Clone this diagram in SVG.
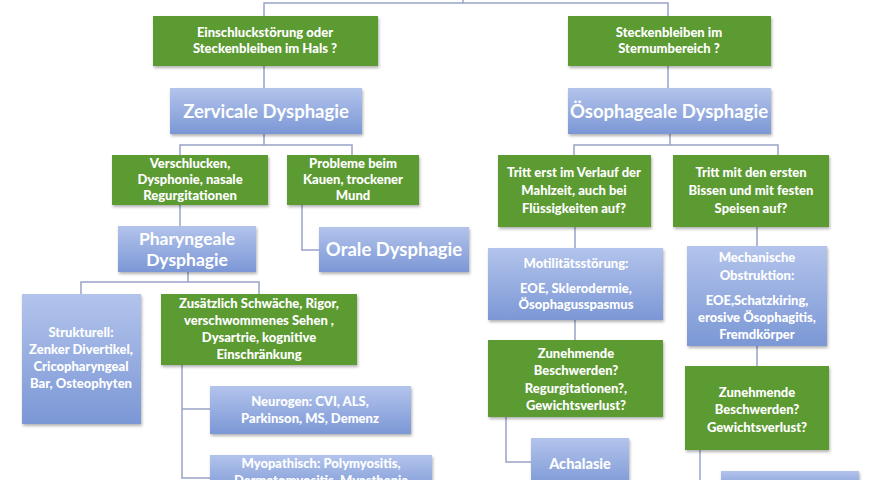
<svg xmlns="http://www.w3.org/2000/svg" width="880" height="480" viewBox="0 0 880 480">
<defs>
<linearGradient id="bg" x1="0" y1="0" x2="0" y2="1"><stop offset="0" stop-color="#b3c4ec"/><stop offset="1" stop-color="#7b97d5"/></linearGradient>
<filter id="sh" x="-10%" y="-10%" width="120%" height="130%"><feDropShadow dx="1" dy="2" stdDeviation="1.5" flood-color="#000" flood-opacity="0.3"/></filter>
</defs>
<style>
.g{fill:#5c9a32;filter:url(#sh)}
.b{fill:url(#bg);filter:url(#sh)}
text{font-family:Lato,"Liberation Sans",sans-serif;font-weight:900;fill:#fff;text-anchor:middle;font-size:13px}
.t{font-size:18.5px;font-weight:bold}
.m{font-size:17.5px;font-weight:bold}
#conn path{fill:none;stroke:#98a3c6;stroke-width:1.5}
</style>
<rect width="880" height="480" fill="#fff"/>
<g id="conn">
<path d="M463 0V3M264 16V3H668V16"/>
<path d="M264 66V88M668 66V88"/>
<path d="M264 134V145M180 155V145H352V155"/>
<path d="M670 134V145M574 155V145H778V155"/>
<path d="M180 205V226"/>
<path d="M302 205V250H319"/>
<path d="M188 272V282M81 294V282H259V294"/>
<path d="M182 365V478H210M182 409H210"/>
<path d="M575 227V248M575 320V340M506 417V462H531"/>
<path d="M757 227V246M757 346V366M700 450V480"/>
</g>
<g id="n1"><rect class="g" x="153" y="16" width="225" height="50"/><text x="265" y="37">Einschluckstörung oder</text><text x="265" y="53">Steckenbleiben im Hals ?</text></g>
<g id="n2"><rect class="g" x="568" y="16" width="203" height="50"/><text x="669" y="37">Steckenbleiben im</text><text x="669" y="53">Sternumbereich ?</text></g>
<g id="n3"><rect class="b" x="170" y="88" width="192" height="46"/><text class="t" x="266" y="118">Zervicale Dysphagie</text></g>
<g id="n4"><rect class="b" x="568" y="88" width="203" height="46"/><text class="t" x="669" y="118">Ösophageale Dysphagie</text></g>
<g id="n5"><rect class="g" x="112" y="155" width="156" height="50"/><text x="190" y="168">Verschlucken,</text><text x="190" y="184">Dysphonie, nasale</text><text x="190" y="200">Regurgitationen</text></g>
<g id="n6"><rect class="g" x="287" y="155" width="132" height="50"/><text x="353" y="168">Probleme beim</text><text x="353" y="184">Kauen, trockener</text><text x="353" y="200">Mund</text></g>
<g id="n7"><rect class="b" x="118" y="226" width="138" height="46"/><text class="m" x="187" y="245">Pharyngeale</text><text class="m" x="187" y="266">Dysphagie</text></g>
<g id="n8"><rect class="b" x="319" y="227" width="150" height="45"/><text class="t" x="394" y="256">Orale Dysphagie</text></g>
<g id="n9"><rect class="b" x="22" y="294" width="119" height="130"/><text x="81" y="337">Strukturell:</text><text x="81" y="354">Zenker Divertikel,</text><text x="81" y="371">Cricopharyngeal</text><text x="81" y="388">Bar, Osteophyten</text></g>
<g id="n10"><rect class="g" x="161" y="294" width="196" height="71"/><text x="259" y="308">Zusätzlich Schwäche, Rigor,</text><text x="259" y="325">verschwommenes Sehen ,</text><text x="259" y="342">Dysartrie, kognitive</text><text x="259" y="359">Einschränkung</text></g>
<g id="n11"><rect class="b" x="210" y="386" width="201" height="48"/><text x="310" y="406">Neurogen: CVI, ALS,</text><text x="310" y="423">Parkinson, MS, Demenz</text></g>
<g id="n12"><rect class="b" x="210" y="455" width="222" height="40"/><text x="321" y="468">Myopathisch: Polymyositis,</text><text x="321" y="485">Dermatomyositis, Myasthenia</text></g>
<g id="n13"><rect class="g" x="498" y="155" width="153" height="72"/><text x="574" y="177">Tritt erst im Verlauf der</text><text x="574" y="195">Mahlzeit, auch bei</text><text x="574" y="213">Flüssigkeiten auf?</text></g>
<g id="n14"><rect class="g" x="673" y="155" width="156" height="72"/><text x="751" y="177">Tritt mit den ersten</text><text x="751" y="195">Bissen und mit festen</text><text x="751" y="213">Speisen auf?</text></g>
<g id="n15"><rect class="b" x="488" y="248" width="175" height="72"/><text x="576" y="268">Motilitätsstörung:</text><text x="576" y="293">EOE, Sklerodermie,</text><text x="576" y="309">Ösophagusspasmus</text></g>
<g id="n16"><rect class="b" x="687" y="246" width="140" height="100"/><text x="757" y="262">Mechanische</text><text x="757" y="280">Obstruktion:</text><text x="757" y="305">EOE,Schatzkiring,</text><text x="757" y="322">erosive Ösophagitis,</text><text x="757" y="339">Fremdkörper</text></g>
<g id="n17"><rect class="g" x="488" y="340" width="175" height="77"/><text x="576" y="358">Zunehmende</text><text x="576" y="375">Beschwerden?</text><text x="576" y="393">Regurgitationen?,</text><text x="576" y="410">Gewichtsverlust?</text></g>
<g id="n18"><rect class="b" x="531" y="438" width="98" height="50"/><text x="580" y="469" style="font-size:14.5px">Achalasie</text></g>
<g id="n19"><rect class="g" x="685" y="366" width="144" height="84"/><text x="757" y="397">Zunehmende</text><text x="757" y="414">Beschwerden?</text><text x="757" y="432">Gewichtsverlust?</text></g>
<g id="n20"><rect class="b" x="721" y="471" width="138" height="20"/></g>
</svg>
